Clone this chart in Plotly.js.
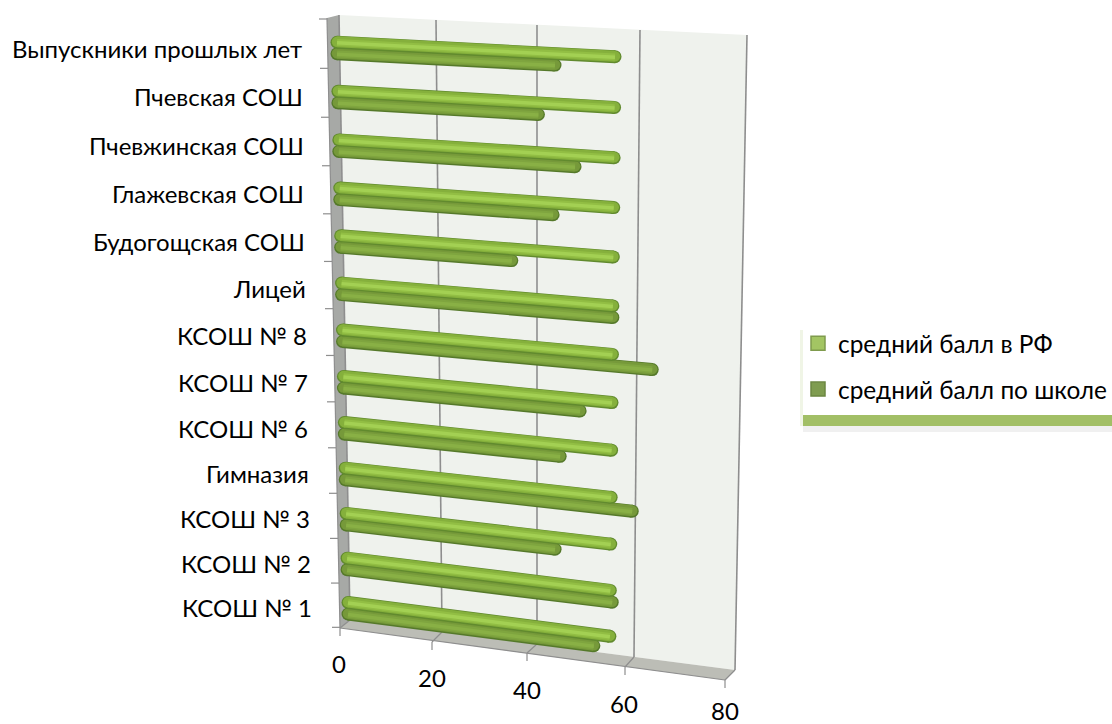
<!DOCTYPE html>
<html><head><meta charset="utf-8">
<script src="https://cdn.plot.ly/plotly-3.0.1.min.js"></script>
<style>html,body{margin:0;padding:0;background:#fff}#c{width:1112px;height:724px}</style></head>
<body><div id="c"></div>
<script>
// ---- data (top row first) ----
var categories = ["Выпускники прошлых лет","Пчевская СОШ","Пчевжинская СОШ","Глажевская СОШ","Будогощская СОШ","Лицей","КСОШ № 8","КСОШ № 7","КСОШ № 6","Гимназия","КСОШ № 3","КСОШ № 2","КСОШ № 1"];
var averageRF = [55.6,55.6,55.6,55.6,55.6,55.6,55.6,55.6,55.6,55.6,55.6,55.6,55.6];
var averageSchool = [43.6,40.3,47.7,43.3,34.9,55.6,63.8,49.0,44.9,60.0,43.9,56.0,52.2];
var valueTicks = [0,20,40,60,80];
var seriesNames = ["средний балл в РФ","средний балл по школе"];

// ---- layout constants ----
var W=1112,H=724,FONT="Lato, Carlito, 'Noto Sans', sans-serif",TEXT=24;
var PXV=4.8125,PXR=46.67;
function ax(px){return (px-340)/PXV;}
function ay(py){return (py-42)/PXR;}
function rowY(r){return 42+49.2*r-0.212*r*r;}
function project(v,r,off){
  var k=0.052+0.077*r/12, x0=337+r*11/12, y0=rowY(r)+off+5*k, s=5.0-0.29*r/12;
  return [x0+s*v, y0+k*s*v];
}
function barPaths(vals,off){
  var xs=[],ys=[],ex=[],ey=[];
  vals.forEach(function(v,r){
    var a=project(0,r,off),b=project(v,r,off);
    xs.push(ax(a[0]),ax(b[0]),null);ys.push(ay(a[1]),ay(b[1]),null);
    ex.push(ax(a[0]),ax(b[0]));ey.push(ay(a[1]),ay(b[1]));
  });
  return {xs:xs,ys:ys,ex:ex,ey:ey};
}
function seriesTraces(vals,off,cDark,cBody,cMid,cHi){
  var p=barPaths(vals,off),b=barPaths(vals,off-0.4),m=barPaths(vals,off+0.2),h=barPaths(vals,off+0.5);
  function line(q,w,c){return {type:"scatter",mode:"lines",x:q.xs,y:q.ys,line:{width:w,color:c},showlegend:false,hoverinfo:"skip"};}
  function cap(q,s,c){return {type:"scatter",mode:"markers",x:q.ex,y:q.ey,marker:{size:s,color:c},showlegend:false,hoverinfo:"skip"};}
  return [cap(p,13,cDark),line(p,13,cDark),cap(b,10.5,cBody),line(b,11,cBody),line(m,7,cMid),line(h,3.5,cHi)];
}
var data=[].concat(
  seriesTraces(averageSchool,11.5,"#55792a","#76993a","#7fa53f","#89b045"),
  seriesTraces(averageRF,0,"#618a2e","#85b03c","#92be44","#a3d053"),
  [{type:"scatter",mode:"markers",x:[null],y:[null],name:seriesNames[0],legendgroup:"a",marker:{symbol:"square",size:14,color:"#a3c563",line:{color:"#7f9b4d",width:1.5}}},
   {type:"scatter",mode:"markers",x:[null],y:[null],name:seriesNames[1],legendgroup:"b",marker:{symbol:"square",size:14,color:"#7f9c50",line:{color:"#6c8742",width:1.5}}}]
);

// ---- wall / floor geometry in picture pixels ----
var wallTop=[[339,15],[436,20],[537,25],[640,30],[747,35]];
var wallBot=[[350,620],[442,632],[537,644],[634,657],[735,670]];
var floorFront=[[340,628],[432,642],[527,653],[625,667],[725,680]];
var tickLabelPos=[[339,663],[432,677],[527,689],[624,703],[725,710]];
function px(x){return x/W;} function py(y){return 1-y/H;}
function poly(pts,fill,line){
  return {type:"path",xref:"paper",yref:"paper",layer:"below",
    path:"M"+pts.map(function(p){return px(p[0])+","+py(p[1]);}).join("L")+"Z",
    fillcolor:fill,line:{width:line?1:0,color:line||fill}};
}
function seg(a,b,c,w){
  return {type:"line",xref:"paper",yref:"paper",layer:"below",x0:px(a[0]),y0:py(a[1]),x1:px(b[0]),y1:py(b[1]),line:{color:c,width:w}};
}
function box(x0,y0,x1,y1,c){
  return {type:"rect",xref:"paper",yref:"paper",layer:"below",x0:px(x0),y0:py(y0),x1:px(x1),y1:py(y1),fillcolor:c,line:{width:0}};
}
var shapes=[];
shapes.push(poly([wallTop[0],wallTop[4],wallBot[4],wallBot[0]],"#eff2ed"));
shapes.push(poly([[327,18],wallTop[0],wallBot[0],floorFront[0]],"#a7a9a6"));
shapes.push(poly([wallBot[0],wallBot[4],floorFront[4],floorFront[0]],"#bcbdb6"));
valueTicks.forEach(function(v,i){
  var c="#8e8e8e";
  shapes.push(seg(wallTop[i],wallBot[i],c,1.6));
  shapes.push(seg(wallBot[i],floorFront[i],c,1.2));
  shapes.push(seg(floorFront[i],[floorFront[i][0],floorFront[i][1]+8],c,1.2));
});
shapes.push(seg(floorFront[0],floorFront[4],"#8e8e8e",1.2));
shapes.push(seg([327,18],floorFront[0],"#8e8e8e",1.2));
for(var t=0;t<=13;t++){
  var ty=rowY(t)-23+t*0.35, tx=327+t;
  shapes.push(seg([tx-8,ty],[tx,ty],"#8e8e8e",1.2));
}
// legend panel with its soft shadow
shapes.push(box(803,424,1112,432,"rgba(130,130,130,0.12)"));
shapes.push(box(800,330,803,426,"rgba(155,187,89,0.15)"));
shapes.push(box(803,410,1112,426,"#a2bf66"));
shapes.push(box(803,322,1112,415,"#ffffff"));

var annotations=[];
categories.forEach(function(c,r){
  annotations.push({xref:"paper",yref:"paper",x:px(304+r*9.5/12),y:py(rowY(r)+6),text:c,showarrow:false,xanchor:"right",yanchor:"middle",font:{family:FONT,size:TEXT,color:"#000"}});
});
valueTicks.forEach(function(v,i){
  annotations.push({xref:"paper",yref:"paper",x:px(tickLabelPos[i][0]),y:py(tickLabelPos[i][1]),text:String(v),showarrow:false,xanchor:"center",yanchor:"middle",font:{family:FONT,size:TEXT,color:"#000"}});
});

var layout={width:W,height:H,margin:{l:0,r:0,t:0,b:0},paper_bgcolor:"#fff",plot_bgcolor:"rgba(0,0,0,0)",
  xaxis:{visible:false,range:[ax(0),ax(W)],fixedrange:true},
  yaxis:{visible:false,range:[ay(H),ay(0)],fixedrange:true},
  shapes:shapes,annotations:annotations,
  showlegend:true,
  legend:{x:px(798),y:py(321),xanchor:"left",yanchor:"top",bgcolor:"rgba(0,0,0,0)",borderwidth:0,tracegroupgap:11,font:{family:FONT,size:24.4,color:"#000"},itemclick:false,itemdoubleclick:false}
};
Plotly.newPlot("c",data,layout,{displayModeBar:false,staticPlot:true});
</script></body></html>
